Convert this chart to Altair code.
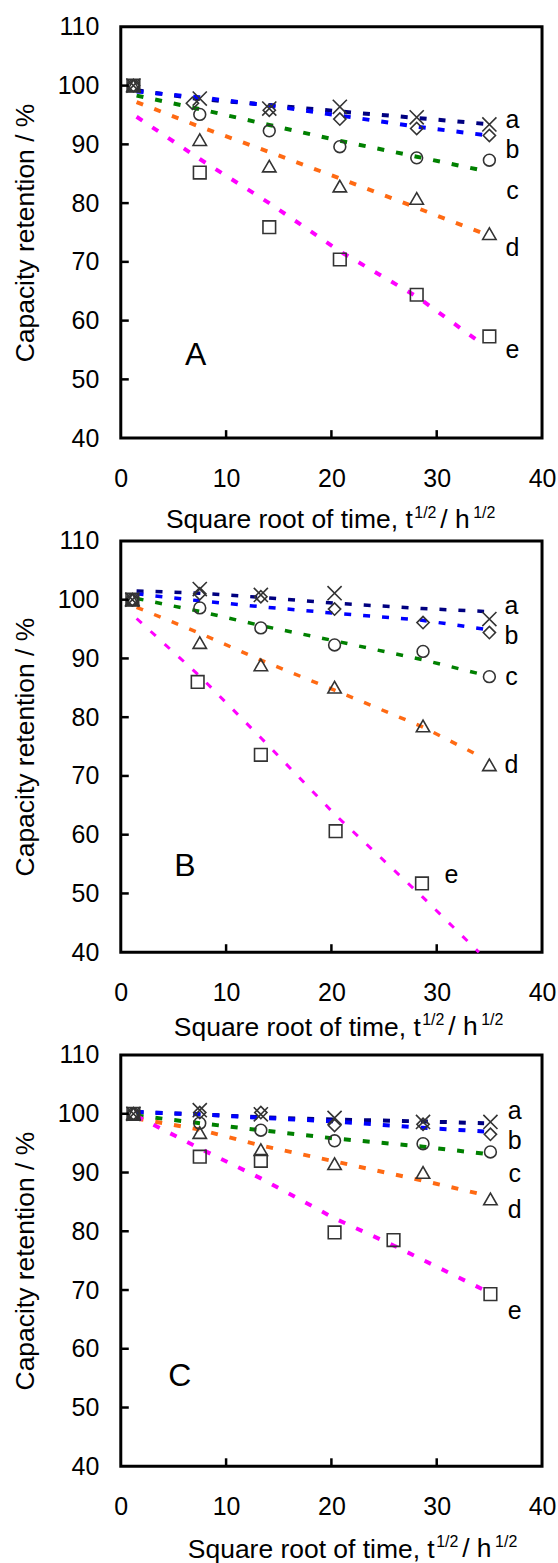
import altair as alt
import pandas as pd

FONT = "Liberation Sans"
W, H = 422, 412
SERIES = ["a", "b", "c", "d", "e"]
LINE_COLORS = ["#000080", "#0000FF", "#008000", "#FF6A13", "#FF00FF"]
SHAPES = ["M-1,-1L1,1M-1,1L1,-1", "diamond", "circle", "triangle-up", "square"]
SIZES = [200, 150, 140, 180, 160]
X_TICKS = [0, 10, 20, 30, 40]
Y_TICKS = [40, 50, 60, 70, 80, 90, 100, 110]
INNER_X = [10, 20, 30]
INNER_Y = [50, 60, 70, 80, 90, 100]

# ---------------- Panel A ----------------
A_X = [1.2, 7.5, 14.1, 20.8, 28.1, 35.0]
A_XB = [1.2, 6.8, 14.1, 20.8, 28.1, 35.0]
A_a = [100, 97.8, 96.1, 96.4, 94.6, 93.4]
A_b = [100, 97.0, 95.8, 94.3, 92.7, 91.5]
A_c = [100, 95.1, 92.3, 89.6, 87.7, 87.3]
A_d = [100, 90.8, 86.3, 82.9, 80.8, 74.8]
A_e = [100, 85.2, 75.9, 70.4, 64.4, 57.3]
A_LX = [1.5, 7.5, 14.1, 20.8, 28.1, 34.5]
A_La = [99.2, 97.7, 96.7, 95.6, 94.5, 93.5]
A_Lb = [99.0, 98.0, 96.6, 94.9, 93.0, 91.6]
A_Lc = [98.3, 96.0, 93.3, 90.6, 87.9, 85.5]
A_Ld = [97.2, 93.0, 88.7, 84.2, 79.2, 74.8]
A_Le = [94.7, 87.5, 80.0, 71.8, 64.1, 55.8]
A_TAG_X = [37.2, 37.2, 37.2, 37.2, 37.2]
A_TAG_Y = [94.1, 89.0, 82.0, 72.4, 55.0]

# ---------------- Panel B ----------------
B_X = [1.1, 7.5, 13.3, 20.3, 28.7, 35.0]
B_XA = [1.1, 7.5, 13.3, 20.3, 35.0]
B_XE = [1.1, 7.3, 13.3, 20.4, 28.6]
B_a = [100, 101.8, 100.8, 101.1, 96.7]
B_b = [100, 101.0, 100.5, 98.4, 96.1, 94.4]
B_c = [100, 98.6, 95.2, 92.3, 91.2, 86.9]
B_d = [100, 92.7, 88.9, 85.1, 78.5, 71.9]
B_e = [100, 86.0, 73.6, 60.6, 51.7]
B_LX = [1.5, 7.5, 13.3, 20.3, 28.6, 34.5]
B_LXE = [1.5, 7.5, 13.3, 20.3, 28.6, 34.0]
B_La = [101.5, 101.1, 100.4, 99.4, 98.5, 98.0]
B_Lb = [101.0, 99.8, 98.8, 97.7, 96.5, 95.0]
B_Lc = [100.2, 98.0, 95.6, 93.0, 89.8, 87.2]
B_Ld = [98.7, 94.3, 89.7, 84.6, 78.4, 73.0]
B_Le = [96.8, 87.0, 76.5, 63.5, 49.5, 40.0]
B_TAG_X = [37.1, 37.1, 37.1, 37.1, 31.4]
B_TAG_Y = [98.9, 93.8, 86.9, 71.8, 53.2]

# ---------------- Panel C ----------------
C_X = [1.2, 7.5, 13.3, 20.3, 28.7, 35.1]
C_XE = [1.2, 7.5, 13.3, 20.3, 25.9, 35.1]
C_a = [100, 100.6, 99.9, 99.3, 98.6, 98.6]
C_b = [100, 100.2, 100.2, 98.0, 98.2, 96.5]
C_c = [100, 98.4, 97.2, 95.4, 94.9, 93.5]
C_d = [100, 96.8, 93.9, 91.5, 90.0, 85.5]
C_e = [100, 92.7, 92.0, 79.8, 78.5, 69.3]
C_LX = [1.5, 7.5, 13.3, 20.3, 28.7, 34.5]
C_LXE = [1.5, 7.5, 13.3, 20.3, 26.0, 34.5]
C_La = [100.3, 99.9, 99.4, 99.0, 98.7, 98.4]
C_Lb = [100.3, 99.9, 99.3, 98.7, 97.6, 97.0]
C_Lc = [99.7, 98.4, 97.2, 95.8, 94.4, 93.2]
C_Ld = [99.2, 97.3, 94.6, 91.9, 88.6, 86.2]
C_Le = [99.6, 94.1, 89.0, 82.2, 77.5, 70.0]
C_TAG_X = [37.4, 37.4, 37.4, 37.4, 37.4]
C_TAG_Y = [100.55, 95.4, 89.8, 83.7, 66.5]


def panel(points, lines, tag_x, tag_y, letter, letter_x, letter_y,
          title_right, title_y, line_widths):
    X = alt.X("x:Q", scale=alt.Scale(domain=[0, 40], nice=False, zero=False),
              axis=alt.Axis(values=X_TICKS, domain=False, ticks=False, grid=False,
                            labelFontSize=25, labelFont=FONT, labelColor="black",
                            labelPadding=28, labelFlush=False, labelOverlap=False,
                            title="Square root of time, t", titleFont=FONT,
                            titleFontSize=26.5, titleFontWeight="normal",
                            titleColor="black", titleX=title_right, titleY=title_y,
                            titleAlign="right", titleBaseline="alphabetic",
                            titleAngle=0))
    Y = alt.Y("y:Q", scale=alt.Scale(domain=[40, 110], nice=False, zero=False),
              axis=alt.Axis(values=Y_TICKS, domain=False, ticks=False, grid=False,
                            labelFontSize=25, labelFont=FONT, labelColor="black",
                            labelPadding=22, labelFlush=False, labelOverlap=False,
                            title="Capacity retention / %", titleFont=FONT,
                            titleFontSize=26.5, titleFontWeight="normal",
                            titleColor="black", titlePadding=18))
    layers = []
    for i, (s, xs, ys) in enumerate(lines):
        df = pd.DataFrame({"x": xs, "y": ys})
        layers.append(alt.Chart(df).mark_line(
            color=LINE_COLORS[i], strokeWidth=line_widths[i],
            strokeDash=[7, 12], strokeCap="butt").encode(x=X, y=Y))
    for i, (s, xs, ys) in enumerate(points):
        df = pd.DataFrame({"x": xs, "y": ys})
        layers.append(alt.Chart(df).mark_point(
            shape=SHAPES[i], size=SIZES[i], filled=False, color="#333333",
            strokeWidth=1.6, opacity=1).encode(x=X, y=Y))
    tdf = pd.DataFrame({"x": tag_x, "y": tag_y, "t": SERIES})
    layers.append(alt.Chart(tdf).mark_text(
        fontSize=25, font=FONT, color="black", align="center",
        baseline="middle").encode(x=X, y=Y, text="t:N"))
    ldf = pd.DataFrame({"x": [letter_x], "y": [letter_y], "t": [letter]})
    layers.append(alt.Chart(ldf).mark_text(
        fontSize=32, font=FONT, color="black", align="center",
        baseline="middle").encode(x=X, y=Y, text="t:N"))
    # inner ticks
    layers.append(alt.Chart(pd.DataFrame({"y": INNER_Y})).mark_rule(
        color="black", strokeWidth=2.5).encode(
        y=Y, x=alt.value(0), x2=alt.value(8)))
    layers.append(alt.Chart(pd.DataFrame({"x": INNER_X})).mark_rule(
        color="black", strokeWidth=2.5).encode(
        x=X, y=alt.value(H), y2=alt.value(H - 8)))
    # superscript parts of the x title
    one = alt.Data(values=[{}])
    layers.append(alt.Chart(one).mark_text(
        text="1/2", fontSize=16, font=FONT, color="black", align="left",
        baseline="alphabetic").encode(x=alt.value(title_right + 2),
                                      y=alt.value(H + title_y - 10)))
    layers.append(alt.Chart(one).mark_text(
        text="/ h", fontSize=26.5, font=FONT, color="black", align="left",
        baseline="alphabetic").encode(x=alt.value(title_right + 28),
                                      y=alt.value(H + title_y)))
    layers.append(alt.Chart(one).mark_text(
        text="1/2", fontSize=16, font=FONT, color="black", align="left",
        baseline="alphabetic").encode(x=alt.value(title_right + 61),
                                      y=alt.value(H + title_y - 10)))
    return alt.layer(*layers).properties(width=W, height=H)


pa = panel(
    [("a", A_X, A_a), ("b", A_XB, A_b), ("c", A_X, A_c), ("d", A_X, A_d), ("e", A_X, A_e)],
    [("a", A_LX, A_La), ("b", A_LX, A_Lb), ("c", A_LX, A_Lc), ("d", A_LX, A_Ld), ("e", A_LX, A_Le)],
    A_TAG_X, A_TAG_Y, "A", 7.1, 54.1, 292, 90, [4, 4, 4, 4, 4])
pb = panel(
    [("a", B_XA, B_a), ("b", B_X, B_b), ("c", B_X, B_c), ("d", B_X, B_d), ("e", B_XE, B_e)],
    [("a", B_LX, B_La), ("b", B_LX, B_Lb), ("c", B_LX, B_Lc), ("d", B_LX, B_Ld), ("e", B_LXE, B_Le)],
    B_TAG_X, B_TAG_Y, "B", 6.1, 54.6, 300, 83, [3.5, 3.5, 3.5, 3.5, 3])
pc = panel(
    [("a", C_X, C_a), ("b", C_X, C_b), ("c", C_X, C_c), ("d", C_X, C_d), ("e", C_XE, C_e)],
    [("a", C_LX, C_La), ("b", C_LX, C_Lb), ("c", C_LX, C_Lc), ("d", C_LX, C_Ld), ("e", C_LXE, C_Le)],
    C_TAG_X, C_TAG_Y, "C", 5.6, 55.3, 314, 91, [4, 4, 4, 4, 4])

chart = alt.vconcat(pa, pb, pc, spacing=103, bounds="flush").properties(
    padding={"left": 10, "top": 11.5, "right": 0, "bottom": 0},
    background="white",
).configure_view(stroke="black", strokeWidth=3)

chart.save("out.html", embed_options={"renderer": "svg", "actions": False})
